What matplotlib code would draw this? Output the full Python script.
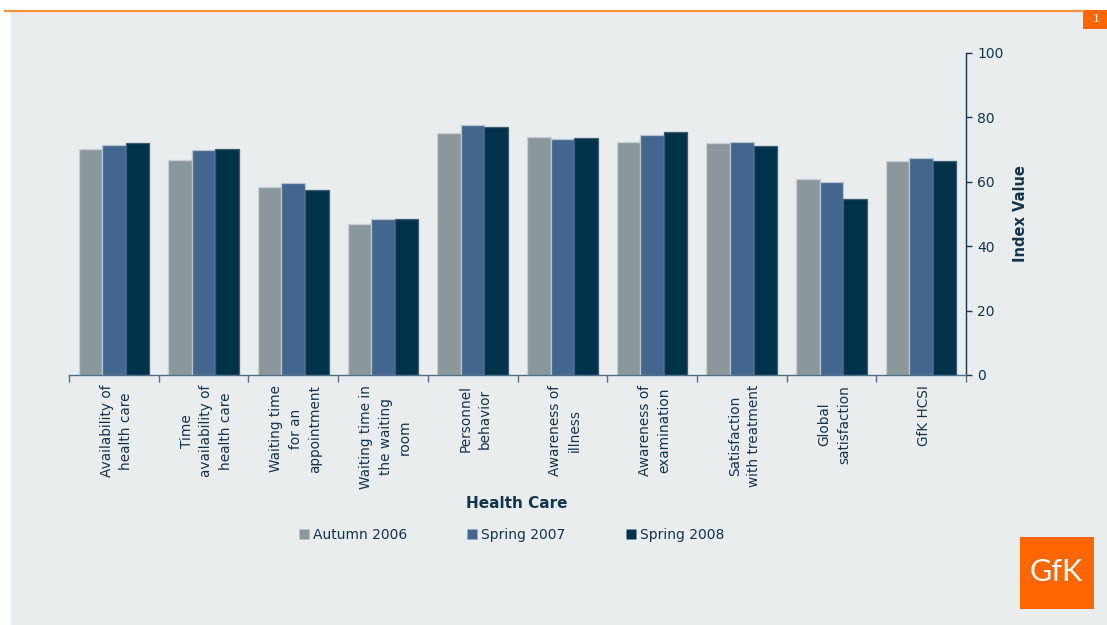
import matplotlib
matplotlib.use("Agg")
import matplotlib.pyplot as plt
import numpy as np
from matplotlib.patches import Rectangle
from matplotlib.lines import Line2D

categories = [
    "Availability of\nhealth care",
    "Time\navailability of\nhealth care",
    "Waiting time\nfor an\nappointment",
    "Waiting time in\nthe waiting\nroom",
    "Personnel\nbehavior",
    "Awareness of\nillness",
    "Awareness of\nexamination",
    "Satisfaction\nwith treatment",
    "Global\nsatisfaction",
    "GfK HCSI",
]
series_names = ["Autumn 2006", "Spring 2007", "Spring 2008"]
autumn_2006 = [70.3, 66.9, 58.4, 47.0, 75.3, 73.9, 72.5, 72.0, 60.8, 66.4]
spring_2007 = [71.5, 69.8, 59.5, 48.4, 77.5, 73.3, 74.5, 72.5, 59.9, 67.4]
spring_2008 = [72.0, 70.1, 57.5, 48.4, 77.0, 73.6, 75.4, 71.0, 54.7, 66.6]
y_ticks = [0, 20, 40, 60, 80, 100]

colors = ["#8A979B", "#43668F", "#003349"]
edges = ["#C9D1D4", "#B9C6CF", "#3E5D70"]
text_color = "#12344D"
panel = "#E9EDEE"

W, H = 1107, 625
fig = plt.figure(figsize=(W / 100, H / 100), dpi=100, facecolor="white")
plt.rcParams["font.family"] = ["DejaVu Sans"]

# background panel
fig.patches.append(Rectangle((11 / W, 0), 1 - 11 / W, 1 - 11 / H, transform=fig.transFigure,
                             facecolor=panel, edgecolor="none", zorder=-5))
# orange top line
fig.lines.append(Line2D([5 / W, 1083 / W], [1 - 10.5 / H, 1 - 10.5 / H], transform=fig.transFigure,
                        color="#F7923A", linewidth=1.6))
# page number box
fig.patches.append(Rectangle((1083 / W, 1 - 29 / H), 24 / W, 19 / H, transform=fig.transFigure,
                             facecolor="#FF6600", edgecolor="none"))
fig.text(1096 / W, 1 - 19.5 / H, "1", color="white", fontsize=8, ha="center", va="center",
         family="DejaVu Serif")
# GfK logo box
fig.patches.append(Rectangle((1020 / W, 1 - 609 / H), 74 / W, 72 / H, transform=fig.transFigure,
                             facecolor="#FF6600", edgecolor="none"))
fig.text(1056 / W, 1 - 572 / H, "GfK", color="white", fontsize=22, ha="center", va="center",
         family="Lato")

ax = fig.add_axes([69 / W, 1 - 375 / H, (966 - 69) / W, (375 - 53) / H])
ax.set_facecolor("none")
ax.set_zorder(2)

x = np.arange(len(categories))
bw = 0.262
for i, (vals, name) in enumerate(zip([autumn_2006, spring_2007, spring_2008], series_names)):
    ax.bar(x + (i - 1) * bw, vals, width=bw, color=colors[i], edgecolor=edges[i],
           linewidth=0.9, label=name, zorder=2)

ax.set_xlim(-0.5, len(categories) - 0.5)
ax.set_ylim(0, 100)
ax.set_xticks(np.arange(-0.5, len(categories), 1.0))
ax.set_xticklabels([])
ax.tick_params(axis="x", direction="out", length=5, color="#4F6F86", width=1)

ax.yaxis.tick_right()
ax.yaxis.set_label_position("right")
ax.set_yticks(y_ticks)
ax.tick_params(axis="y", direction="out", length=4, color=text_color, width=1,
               labelsize=10, labelcolor=text_color, pad=4)
ax.set_ylabel("Index Value", fontsize=10.5, fontweight="bold", color=text_color, labelpad=7)

for s in ["top", "left"]:
    ax.spines[s].set_visible(False)
ax.spines["bottom"].set_color("#4F6F86")
ax.spines["right"].set_color(text_color)
ax.spines["bottom"].set_linewidth(1)
ax.spines["right"].set_linewidth(1)

for xi, lab in zip(x, categories):
    ax.text(xi + 0.03, -0.031, lab, transform=ax.get_xaxis_transform(), rotation=90,
            ha="center", va="top", multialignment="center", fontsize=9.8,
            color=text_color, linespacing=1.5)

fig.text(517 / W, 1 - 504 / H, "Health Care", fontsize=11, fontweight="bold",
         color=text_color, ha="center", va="center")

handles = [Line2D([], [], marker="s", linestyle="none", markersize=6.5,
                  markerfacecolor=c, markeredgecolor="none") for c in colors]
leg = fig.legend(handles, series_names, loc="center", bbox_to_anchor=(512 / W, 1 - 535 / H),
                 ncol=3, frameon=False, fontsize=10, handlelength=0.6, handletextpad=0.35,
                 columnspacing=4.4)
for t in leg.get_texts():
    t.set_color(text_color)

fig.savefig("out.png", dpi=100, facecolor="white")
